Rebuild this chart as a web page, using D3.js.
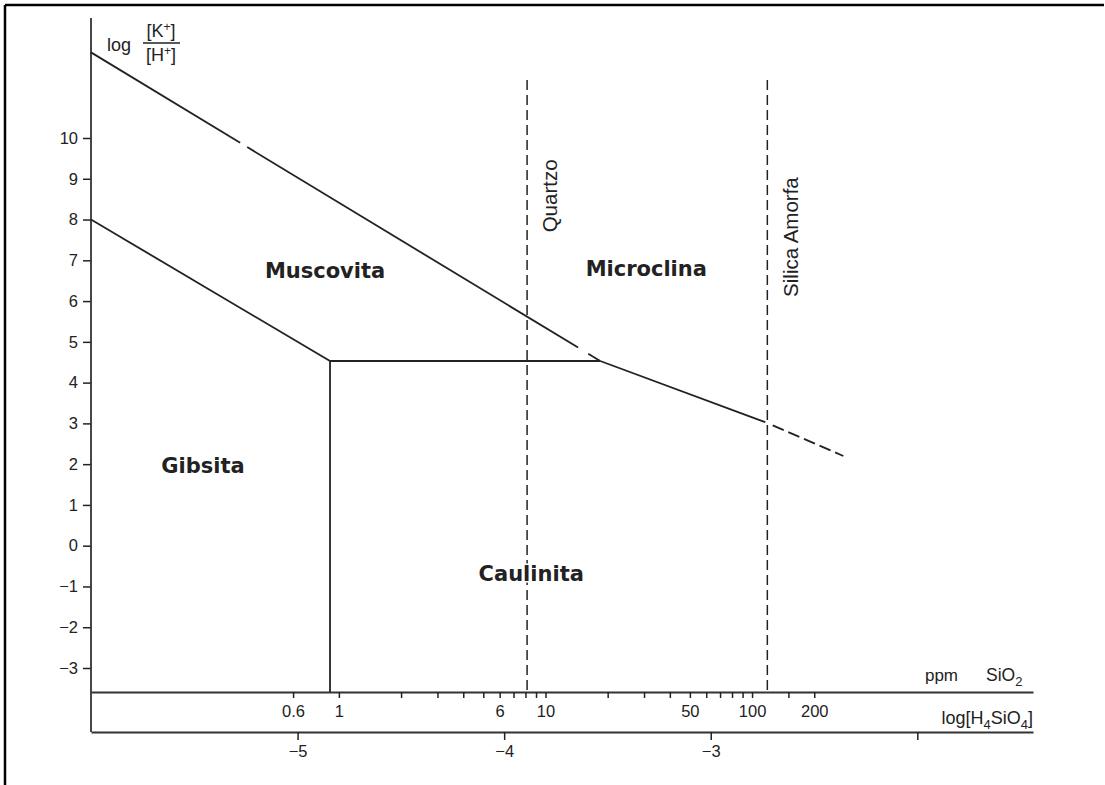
<!DOCTYPE html>
<html><head><meta charset="utf-8">
<script src="https://cdn.jsdelivr.net/npm/d3@7"></script>
<style>
body{margin:0;background:#fff}
svg{display:block}
text{font-family:"Liberation Sans",Arial,Helvetica,sans-serif;fill:#222}
</style>
</head><body>
<svg id="c" width="1105" height="785"></svg>
<script>
// ---- data ----
const yTicks = [-3,-2,-1,0,1,2,3,4,5,6,7,8,9,10];
const logTicks = [-5,-4,-3,-2];
const logTickLabels = ["−5","−4","−3",""];
const ppmTicks = [0.6,1,2,3,4,5,6,7,8,9,10,20,30,40,50,60,70,80,90,100,150,200];
const ppmLabeled = [0.6,1,6,10,50,100,200];
const ppmOffset = 4.8; // log[H4SiO4] = log10(ppm SiO2) - offset
// stability field boundaries: [log H4SiO4, log K/H]
const muscMicroSegments = [
  [[-6,12.1],[-5.278,9.883]],
  [[-5.244,9.778],[-3.642,4.859]],
  [[-3.593,4.708],[-3.535,4.53]]
];
const gibbMusc = [[-6,8],[-4.843,4.53]];
const kaolMusc = [[-4.843,4.53],[-3.535,4.53]];
const kaolGibb = [[-4.843,4.53],[-4.843,-3.59]];
const kaolMicro = [[-3.535,4.53],[-2.736,3.03]];
const kaolMicroMeta = [[-2.70,2.95],[-2.358,2.2]];
const silicaLines = [-3.889,-2.726];
const silicaTop = 11.42, plotBottom = -3.59;
const silicaNames = ["Quartzo","Silica Amorfa"];
const silicaLabelY = [8.58,7.57];
const regionNames = ["Muscovita","Microclina","Gibsita","Caulinita"];
const regionX = [-4.867,-3.312,-5.458,-3.869];
const regionY = [6.76,6.79,1.98,-0.67];

// ---- layout ----
const svg = d3.select("#c");
const X0 = 91, X1 = 1033;
const x = d3.scaleLinear().domain([-6,-1.44]).range([X0,X1]);
const y = d3.scaleLinear().domain([-3,10]).range([668,138]);
const ppm = d3.scaleLog().domain([Math.pow(10,-6+ppmOffset),Math.pow(10,-1.44+ppmOffset)]).range([X0,X1]);
const axis1Y = 692, axis2Y = 732, yAxisTop = 18;
const ink = "#222";

// outer frame (top and left only)
svg.append("line").attr("x1",5).attr("y1",5).attr("x2",1104).attr("y2",5).attr("stroke","#000").attr("stroke-width",2.5);
svg.append("line").attr("x1",5).attr("y1",5).attr("x2",5).attr("y2",785).attr("stroke","#000").attr("stroke-width",2.5);

// y axis
const gy = svg.append("g").attr("transform",`translate(${X0},0)`)
  .call(d3.axisLeft(y).tickValues(yTicks).tickSize(8).tickPadding(5).tickFormat(d3.format("d")));
gy.select(".domain").remove();
gy.selectAll(".tick line").attr("stroke",ink).attr("stroke-width",1.5);
gy.selectAll(".tick text").style("font-size","16.5px").attr("fill",ink);
svg.append("line").attr("x1",X0).attr("x2",X0).attr("y1",yAxisTop).attr("y2",axis2Y)
  .attr("stroke","#333").attr("stroke-width",1.8);

// ppm SiO2 axis
const g1 = svg.append("g").attr("transform",`translate(0,${axis1Y})`)
  .call(d3.axisBottom(ppm).tickValues(ppmTicks).tickSize(6).tickSizeOuter(0).tickPadding(7)
    .tickFormat(d => ppmLabeled.includes(d) ? String(d) : ""));
g1.select(".domain").attr("stroke","#333").attr("stroke-width",1.8);
g1.selectAll(".tick line").attr("stroke",ink).attr("stroke-width",1.5);
g1.selectAll(".tick text").style("font-size","16.5px").attr("fill",ink);

// log H4SiO4 axis
const g2 = svg.append("g").attr("transform",`translate(0,${axis2Y})`)
  .call(d3.axisBottom(x).tickValues(logTicks).tickSize(8).tickSizeOuter(0).tickPadding(5)
    .tickFormat((d,i) => logTickLabels[i]));
g2.select(".domain").attr("stroke","#333").attr("stroke-width",1.8);
g2.selectAll(".tick line").attr("stroke",ink).attr("stroke-width",1.5);
g2.selectAll(".tick text").style("font-size","16.5px").attr("fill",ink);

// axis titles
const t1 = svg.append("text").attr("x",958).attr("y",681).attr("text-anchor","end").style("font-size","17px");
t1.text("ppm");
const t2 = svg.append("text").attr("x",986).attr("y",681).style("font-size","17.5px");
t2.append("tspan").text("SiO");
t2.append("tspan").attr("dy",5).style("font-size","13px").text("2");
const t3 = svg.append("text").attr("x",1033).attr("y",724).attr("text-anchor","end").style("font-size","18px");
t3.append("tspan").text("log[H");
t3.append("tspan").attr("dy",5).style("font-size","13px").text("4");
t3.append("tspan").attr("dy",-5).text("SiO");
t3.append("tspan").attr("dy",5).style("font-size","13px").text("4");
t3.append("tspan").attr("dy",-5).text("]");

// y title: log [K+]/[H+]
svg.append("text").attr("x",107).attr("y",51).style("font-size","18px").text("log");
const num = svg.append("text").attr("x",161).attr("y",37).attr("text-anchor","middle").style("font-size","18px");
num.append("tspan").text("[K");
num.append("tspan").attr("dy",-6).style("font-size","12px").text("+");
num.append("tspan").attr("dy",6).text("]");
svg.append("line").attr("x1",143).attr("x2",180).attr("y1",43).attr("y2",43).attr("stroke",ink).attr("stroke-width",1.3);
const den = svg.append("text").attr("x",161).attr("y",61).attr("text-anchor","middle").style("font-size","18px");
den.append("tspan").text("[H");
den.append("tspan").attr("dy",-6).style("font-size","12px").text("+");
den.append("tspan").attr("dy",6).text("]");

// silica saturation lines
const line = d3.line().x(d => x(d[0])).y(d => y(d[1]));
silicaLines.forEach((sx,i) => {
  svg.append("path").attr("d", line([[sx,silicaTop],[sx,plotBottom]]))
    .attr("fill","none").attr("stroke",ink).attr("stroke-width",1.5).attr("stroke-dasharray","10,5");
  svg.append("text")
    .attr("transform",`translate(${x(sx)+23},${y(silicaLabelY[i])}) rotate(-90)`)
    .attr("text-anchor","middle").attr("dy","0.35em").style("font-size","20.5px")
    .text(silicaNames[i]);
});

// boundaries
const solid = [...muscMicroSegments, gibbMusc, kaolMusc, kaolGibb, kaolMicro];
solid.forEach(seg => {
  svg.append("path").attr("d", line(seg)).attr("fill","none")
    .attr("stroke",ink).attr("stroke-width",1.8);
});
svg.append("path").attr("d", line(kaolMicroMeta)).attr("fill","none")
  .attr("stroke",ink).attr("stroke-width",1.8).attr("stroke-dasharray","12,5");

// field names
regionNames.forEach((n,i) => {
  svg.append("text").attr("x",x(regionX[i])).attr("y",y(regionY[i]))
    .attr("text-anchor","middle").attr("dy","0.36em")
    .style("font-family","'DejaVu Sans',Verdana,sans-serif").style("font-weight","bold").style("font-size","21px")
    .style("paint-order","stroke").attr("stroke","#fff").attr("stroke-width",3)
    .attr("fill","#111").text(n);
});
</script>
</body></html>
